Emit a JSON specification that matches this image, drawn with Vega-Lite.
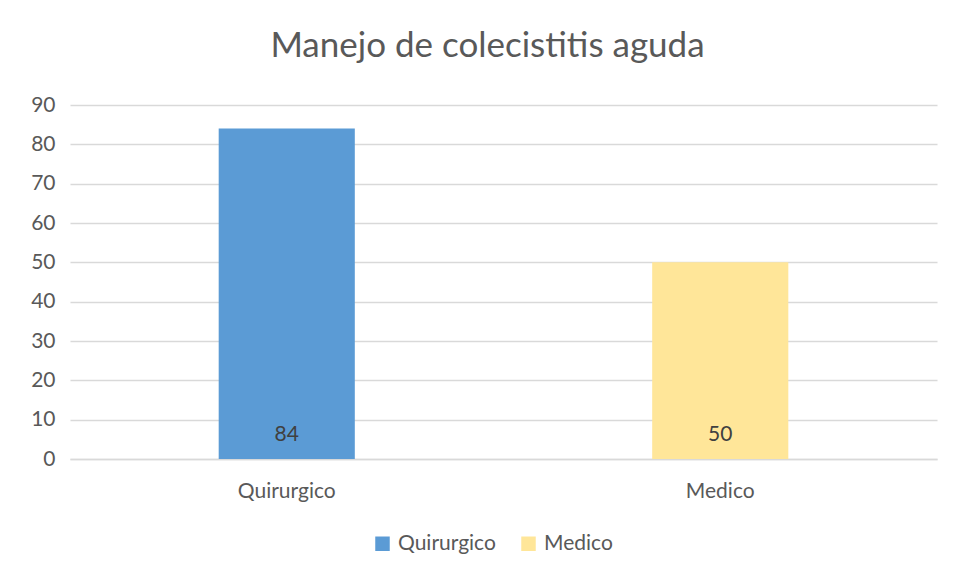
{
  "$schema": "https://vega.github.io/schema/vega-lite/v6.json",
  "autosize": {"type": "none"},
  "width": 867,
  "height": 354,
  "padding": {"left": 70, "top": 105, "right": 20, "bottom": 120},
  "background": "white",
  "title": {
    "text": "Manejo de colecistitis aguda",
    "fontSize": 35,
    "font": "Lato",
    "fontWeight": "normal",
    "color": "#595959",
    "anchor": "middle",
    "dx": -16,
    "offset": 30
  },
  "data": {
    "values": [
      {"manejo": "Quirurgico", "valor": 84},
      {"manejo": "Medico", "valor": 50}
    ]
  },
  "encoding": {
    "x": {
      "field": "manejo",
      "type": "nominal",
      "sort": ["Quirurgico", "Medico"],
      "scale": {"paddingInner": 0.686, "paddingOuter": 0.343},
      "axis": {
        "title": null,
        "labelAngle": 0,
        "labelFontSize": 21,
        "labelFont": "Lato",
        "labelColor": "#595959",
        "labelPadding": 21,
        "domain": true,
        "domainColor": "#D9D9D9",
        "domainWidth": 1.5,
        "ticks": false,
        "grid": false
      }
    },
    "y": {
      "field": "valor",
      "type": "quantitative",
      "scale": {"domain": [0, 90]},
      "axis": {
        "title": null,
        "values": [0, 10, 20, 30, 40, 50, 60, 70, 80, 90],
        "labelFontSize": 21,
        "labelFont": "Lato",
        "labelColor": "#595959",
        "labelPadding": 15,
        "domain": false,
        "ticks": false,
        "grid": true,
        "gridColor": "#D9D9D9",
        "gridWidth": 1.5
      }
    }
  },
  "layer": [
    {
      "mark": {"type": "bar"},
      "encoding": {
        "color": {
          "field": "manejo",
          "type": "nominal",
          "sort": ["Quirurgico", "Medico"],
          "scale": {"domain": ["Quirurgico", "Medico"], "range": ["#5B9BD5", "#FFE699"]},
          "legend": {
            "title": null,
            "orient": "none",
            "legendX": 302,
            "legendY": 428,
            "direction": "horizontal",
            "symbolType": "square",
            "symbolSize": 210,
            "symbolStrokeWidth": 0,
            "labelFontSize": 21,
            "labelFont": "Lato",
            "labelColor": "#595959",
            "labelOffset": 5,
            "columnPadding": 22
          }
        }
      }
    },
    {
      "mark": {"type": "text", "fontSize": 21, "font": "Lato", "color": "#404040", "baseline": "middle", "dy": -24},
      "encoding": {
        "y": {"datum": 0, "type": "quantitative"},
        "text": {"field": "valor", "type": "quantitative"}
      }
    }
  ],
  "config": {
    "view": {"stroke": null}
  }
}
